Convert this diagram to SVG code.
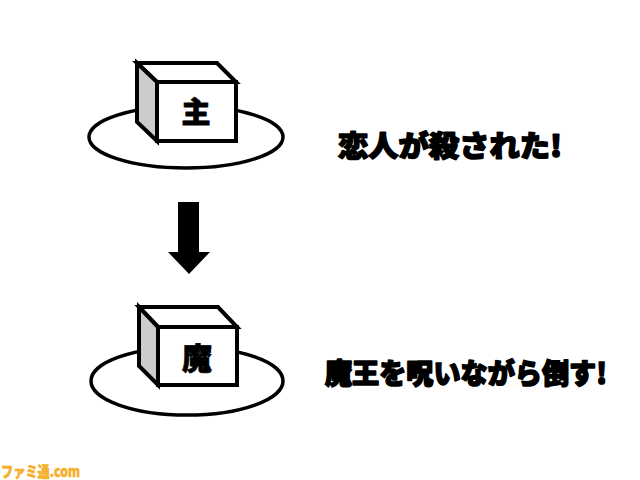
<svg xmlns="http://www.w3.org/2000/svg" width="640" height="480" viewBox="0 0 640 480">
<style>
.ring{fill:#fff;stroke:#000;stroke-width:3.5}
.face{fill:#fff;stroke:#000;stroke-width:4;stroke-linejoin:miter}
.side{fill:#cccccc;stroke:#000;stroke-width:4}
.lbl{font-family:"Noto Sans CJK JP","Noto Sans",sans-serif;font-weight:900;fill:#000;stroke:#000;stroke-width:1.6;stroke-linejoin:round}
.nl{font-family:"Noto Sans CJK JP","Noto Sans",sans-serif;font-weight:900;fill:#000;stroke:#000;stroke-width:0.8;stroke-linejoin:round}
.wm{font-family:"Noto Sans CJK JP","Noto Sans",sans-serif;font-weight:900;fill:#f5b02a;stroke:#f5b02a;stroke-width:0.5}
</style>
<rect width="640" height="480" fill="#fff"/>
<g id="node-hero">
<ellipse class="ring" cx="186" cy="137" rx="97" ry="31"/>
<polygon class="face" points="137,63 217,63 236,82 157,82"/>
<polygon class="side" points="137,63 157,82 157,141 137,122"/>
<rect class="face" x="157" y="82" width="79" height="59"/>
<text class="nl" x="196" y="123" font-size="29" text-anchor="middle">主</text>
</g>
<g id="node-demon">
<ellipse class="ring" cx="187" cy="381" rx="96" ry="34"/>
<polygon class="face" points="139,307 218,307 237,327 158,327"/>
<polygon class="side" points="139,307 158,327 158,385 139,366"/>
<rect class="face" x="158" y="327" width="79" height="58"/>
<text class="nl" x="197" y="369" font-size="30" text-anchor="middle">魔</text>
</g>
<g id="connectors">
<polygon fill="#000" points="178,202 199,202 199,252 210,252 189,274 168,252 178,252"/>
</g>
<g id="captions">
<text class="lbl" x="338" y="157" font-size="29" textLength="224" lengthAdjust="spacingAndGlyphs">恋人が殺された!</text>
<text class="lbl" x="325" y="384" font-size="28" textLength="282" lengthAdjust="spacingAndGlyphs">魔王を呪いながら倒す!</text>
</g>
<text class="wm" x="1" y="477" font-size="15" textLength="79" lengthAdjust="spacingAndGlyphs">ファミ通.com</text>
</svg>
